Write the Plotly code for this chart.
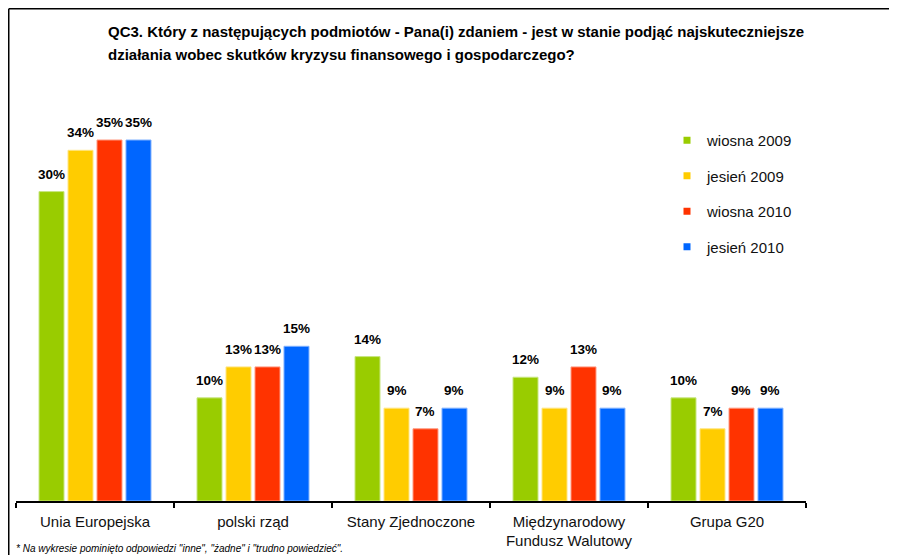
import plotly.graph_objects as go

categories = ["Unia Europejska", "polski rząd", "Stany Zjednoczone",
              "Międzynarodowy<br>Fundusz Walutowy", "Grupa G20"]
series_names = ["wiosna 2009", "jesień 2009", "wiosna 2010", "jesień 2010"]
wiosna_2009 = [30, 10, 14, 12, 10]
jesien_2009 = [34, 13, 9, 9, 7]
wiosna_2010 = [35, 13, 7, 13, 9]
jesien_2010 = [35, 15, 9, 9, 9]
series_values = [wiosna_2009, jesien_2009, wiosna_2010, jesien_2010]
colors = ["#99CC00", "#FFCC00", "#FF3300", "#0066FF"]
outlines = ["#C8E680", "#FFE580", "#FF9980", "#80B2FF"]

title_line1 = "QC3. Który z następujących podmiotów - Pana(i) zdaniem - jest w stanie podjąć najskuteczniejsze"
title_line2 = "działania wobec skutków kryzysu finansowego i gospodarczego?"
footnote = '* Na wykresie pominięto odpowiedzi "inne", "żadne" i "trudno powiedzieć".'

FONT = "Liberation Sans, Arial, sans-serif"
OFF = 8  # page body margin
W, H = 897 - OFF, 555 - OFF
# plot area in window pixels: x 16..806, y 110..501
PL, PR, PT, PB = 16, 806, 110, 501
ML, MR, MT, MB = PL - OFF, (897 - PR), PT - OFF, (555 - PB)
PW, PH = PR - PL, PB - PT
px_per_pct = 361 / 35.0
ymax = PH / px_per_pct

BARGAP = 0.266
GROUPGAP = 0.138
n_series = len(series_names)
slot_px = PW / len(categories) * (1 - BARGAP) / n_series

def px_x(p):
    return (p - PL) / PW

def px_y(p):
    return (PB - p) / PH

fig = go.Figure()
for name, vals, col, ol in zip(series_names, series_values, colors, outlines):
    fig.add_trace(go.Bar(
        x=categories, y=vals, name=name,
        marker=dict(color=col, line=dict(color=ol, width=1)),
        showlegend=False, hoverinfo="x+y",
    ))
    fig.add_trace(go.Scatter(
        x=[None], y=[None], mode="markers", name=name, legendgroup=name,
        marker=dict(symbol="square", size=7, color=col),
    ))

# value labels above bars
for i, vals in enumerate(series_values):
    shift = (i - (n_series - 1) / 2) * slot_px
    for cat, v in zip(categories, vals):
        fig.add_annotation(x=cat, y=v, xref="x", yref="y", text=f"<b>{v}%</b>",
                           showarrow=False, xanchor="center", yanchor="bottom",
                           xshift=shift, yshift=8,
                           font=dict(family=FONT, size=13.5, color="#000000"))

fig.update_layout(
    width=W, height=H,
    margin=dict(l=ML, r=MR, t=MT, b=MB, autoexpand=False),
    paper_bgcolor="white", plot_bgcolor="white",
    barmode="group", bargap=BARGAP, bargroupgap=GROUPGAP,
    font=dict(family=FONT, size=15, color="#000000"),
    xaxis=dict(
        showline=True, linecolor="#000000", linewidth=1.5,
        ticks="outside", tickson="boundaries", ticklen=5, tickcolor="#000000", tickwidth=1.5,
        tickfont=dict(family=FONT, size=15, color="#111111"),
        ticklabelstandoff=6,
        showgrid=False, fixedrange=True, automargin=False,
    ),
    yaxis=dict(visible=False, range=[0, ymax], showgrid=False, fixedrange=True),
    legend=dict(
        x=px_x(667), y=px_y(124), xanchor="left", yanchor="top",
        font=dict(family=FONT, size=15, color="#111111"),
        traceorder="grouped", tracegroupgap=13,
        bgcolor="rgba(0,0,0,0)",
    ),
    showlegend=True,
)

fig.add_annotation(xref="paper", yref="paper", x=px_x(106), y=px_y(32), xanchor="left", yanchor="middle",
                   text=f"<b>{title_line1}</b>", showarrow=False,
                   font=dict(family=FONT, size=15, color="#000000"))
fig.add_annotation(xref="paper", yref="paper", x=px_x(106), y=px_y(55), xanchor="left", yanchor="middle",
                   text=f"<b>{title_line2}</b>", showarrow=False,
                   font=dict(family=FONT, size=15, color="#000000"))
fig.add_annotation(xref="paper", yref="paper", x=px_x(14), y=px_y(548), xanchor="left", yanchor="middle",
                   text=f"<i>{footnote}</i>", showarrow=False,
                   font=dict(family=FONT, size=10, color="#000000"))

# frame lines (left and top edges of the figure)
FX, FY = OFF + 0.75, OFF + 0.75
fig.add_shape(type="line", xref="paper", yref="paper", x0=px_x(FX), y0=px_y(560), x1=px_x(FX), y1=px_y(FY),
              line=dict(color="#000000", width=1.5))
fig.add_shape(type="line", xref="paper", yref="paper", x0=px_x(FX), y0=px_y(FY), x1=px_x(900), y1=px_y(FY),
              line=dict(color="#000000", width=1.5))

fig.write_html("out.html")
